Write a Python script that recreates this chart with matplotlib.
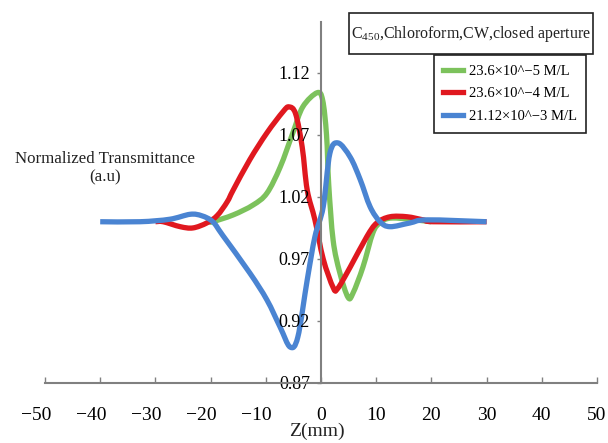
import numpy as np
import matplotlib.pyplot as plt
from matplotlib.patches import Rectangle, PathPatch
from matplotlib.path import Path
from matplotlib.lines import Line2D
from matplotlib.transforms import ScaledTranslation

plt.rcParams['font.family'] = ['Liberation Serif', 'DejaVu Serif']
plt.rcParams['mathtext.fontset'] = 'custom'
plt.rcParams['mathtext.rm'] = 'Liberation Serif'

# curve data (z in mm, normalized transmittance)
z_green = [-20, -19.6, -15.9, -12.3, -9.8, -7.4, -5.1, -3.3, -0.7, 0.3, 1.0, 1.4, 2.2, 3.4, 4.9, 5.8, 7.6, 9.4, 10.7, 13, 20]
t_green = [1.0, 1.0, 1.0055, 1.0135, 1.023, 1.044, 1.0716, 1.0926, 1.104, 1.098, 1.07, 1.03, 0.985, 0.959, 0.939, 0.9425, 0.9635, 0.991, 0.999, 1.003, 1.0]

z_red = [-30, -28.6, -25.5, -23.2, -20.7, -18.8, -17, -15.9, -12.9, -9.8, -6.9, -5.8, -4.6, -3.4, -2.5, -1.1, 0.4, 2.2, 3.0, 5.3, 8.3, 10.1, 12.5, 15.6, 18.5, 20.3, 30]
t_red = [1.0, 1.0, 0.996, 0.995, 0.999, 1.005, 1.016, 1.0256, 1.05, 1.0716, 1.0886, 1.0926, 1.087, 1.06, 1.0256, 1.0015, 0.97, 0.947, 0.946, 0.9635, 0.988, 0.999, 1.004, 1.004, 1.0015, 1.0, 1.0]

z_blue = [-40, -32.8, -27.4, -23.7, -21.6, -19.6, -17.8, -12.9, -9.8, -7.4, -5.6, -4.2, -2.5, -1.1, 0.4, 1.6, 3.1, 5.3, 7.1, 8.9, 10.7, 12.5, 16.1, 19.2, 30]
t_blue = [1.0, 1.0, 1.002, 1.006, 1.0048, 1.0, 0.989, 0.9587, 0.937, 0.915, 0.899, 0.907, 0.953, 0.988, 1.012, 1.055, 1.0635, 1.052, 1.034, 1.012, 1.0, 0.996, 0.999, 1.0015, 1.0]

labels = ['23.6×10^−5 M/L', '23.6×10^−4 M/L', '21.12×10^−3 M/L']
colors = ['#7cc25c', '#e0181f', '#4a84d2']
x_ticks = [-50, -40, -30, -20, -10, 0, 10, 20, 30, 40, 50]
y_ticks = [0.87, 0.92, 0.97, 1.02, 1.07, 1.12]


def smooth_path(x, y):
    # Excel style smoothed line: cubic bezier through every point
    p = np.column_stack([x, y]).astype(float)
    verts = [p[0]]
    codes = [Path.MOVETO]
    for i in range(len(p) - 1):
        p0 = p[i - 1] if i > 0 else p[i]
        p3 = p[i + 2] if i + 2 < len(p) else p[i + 1]
        c1 = p[i] + (p[i + 1] - p0) / 6
        c2 = p[i + 1] - (p3 - p[i]) / 6
        verts += [c1, c2, p[i + 1]]
        codes += [Path.CURVE4] * 3
    return Path(verts, codes)


fig = plt.figure(figsize=(6.08, 4.43), dpi=100)
ax = fig.add_axes([45 / 608, 60 / 443, 552 / 608, 361 / 443])

lw = 3.8
for zs, ts, c in [(z_green, t_green, colors[0]), (z_red, t_red, colors[1]), (z_blue, t_blue, colors[2])]:
    ax.add_patch(PathPatch(smooth_path(zs, ts), fill=False, edgecolor=c, lw=lw,
                           joinstyle='round', capstyle='butt'))

ax.set_xlim(-50, 50)
ax.set_ylim(0.87, 1.161)

ax.spines['top'].set_visible(False)
ax.spines['right'].set_visible(False)
ax.spines['left'].set_position(('data', 0))
for s in ['left', 'bottom']:
    ax.spines[s].set_color('#808080')
    ax.spines[s].set_linewidth(1.5)

ax.set_xticks(x_ticks)
ax.set_xticklabels([str(v).replace('-', '−') for v in x_ticks])
ax.set_yticks(y_ticks)
ax.set_yticklabels(['%.2f' % v for v in y_ticks])
ax.tick_params(axis='x', direction='in', length=4, width=1, color='#808080', labelsize=14, pad=17)
ax.tick_params(axis='y', direction='out', length=3, width=1, color='#808080', labelsize=13, pad=5)
for v, lab in zip(x_ticks, ax.get_xticklabels()):
    if v < 0:
        lab.set_transform(lab.get_transform() + ScaledTranslation(-0.09, 0, fig.dpi_scale_trans))

fig.text(105 / 608, 1 - 168 / 443, 'Normalized Transmittance\n(a.u)', ha='center', va='center',
         fontsize=12.2, color='#222222', linespacing=1.2)
fig.text(317 / 608, 1 - 431 / 443, 'Z(mm)', ha='center', va='center', fontsize=14, color='#222222')

# title box
fig.patches.append(Rectangle((349 / 608, 1 - 54 / 443), 244 / 608, 41 / 443, transform=fig.transFigure,
                             fill=False, edgecolor='#222222', lw=1.2))
fig.text(471 / 608, 1 - 34 / 443, r'C$_{\mathrm{450}}$,Chloroform,CW,closed aperture', ha='center', va='center',
         fontsize=11.5, color='#222222')

handles = [Line2D([], [], color=c, lw=lw) for c in colors]
leg = ax.legend(handles, labels, loc='upper right', bbox_to_anchor=(586 / 608, 1 - 55 / 443),
                bbox_transform=fig.transFigure, borderaxespad=0,
                fancybox=False, framealpha=1, edgecolor='#222222', fontsize=10.5, handlelength=1.4,
                handletextpad=0.35, labelspacing=0.65, borderpad=0.65)
leg.get_frame().set_linewidth(1.2)

fig.savefig('out.png', dpi=100)
